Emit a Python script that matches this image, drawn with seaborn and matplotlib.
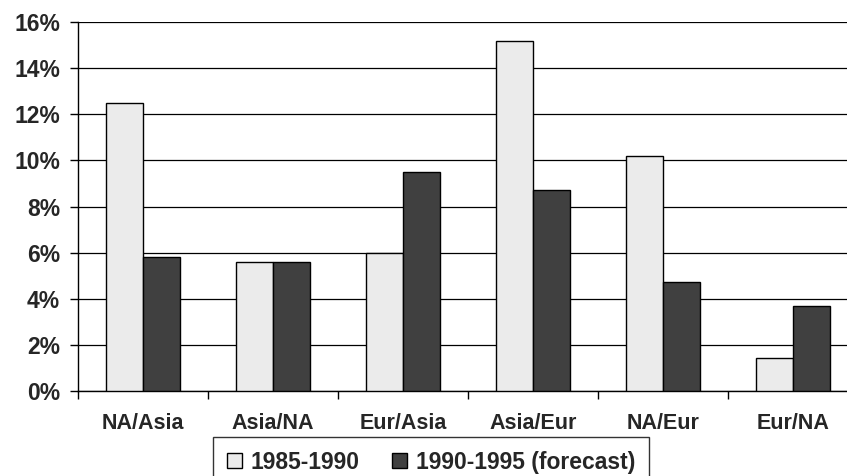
import matplotlib
matplotlib.use("Agg")
import matplotlib.pyplot as plt
from matplotlib.patches import Patch
import seaborn as sns
import pandas as pd
import numpy as np

# Trade-flow growth rates (%) per region pair
routes = ["NA/Asia", "Asia/NA", "Eur/Asia", "Asia/Eur", "NA/Eur", "Eur/NA"]
growth_1985_1990 = [12.5, 5.6, 6.0, 15.2, 10.2, 1.4]
growth_1990_1995 = [5.8, 5.6, 9.5, 8.7, 4.7, 3.7]
periods = ["1985-1990", "1990-1995 (forecast)"]
y_ticks = [0, 2, 4, 6, 8, 10, 12, 14, 16]

df = pd.DataFrame({
    "route": routes * 2,
    "growth": growth_1985_1990 + growth_1990_1995,
    "period": [periods[0]] * len(routes) + [periods[1]] * len(routes),
})

sns.set_theme(style="white")
plt.rcParams["font.family"] = ["Liberation Sans", "DejaVu Sans"]
plt.rcParams["font.weight"] = "bold"

W, H = 847, 476
fig = plt.figure(figsize=(W / 100, H / 100), dpi=100)
left, right, bottom, top = 78, 858, 476 - 390.7, 476 - 22.3
ax = fig.add_axes([left / W, bottom / H, (right - left) / W, (top - bottom) / H])

palette = {periods[0]: "#ebebeb", periods[1]: "#404040"}
sns.barplot(data=df, x="route", y="growth", hue="period", order=routes,
            hue_order=periods, palette=palette, width=0.57, saturation=1,
            edgecolor="black", linewidth=1.0, legend=False, ax=ax, zorder=3)

ax.set_ylim(0, 16)
ax.set_xlim(-0.5, len(routes) - 0.5)
ax.set_yticks(y_ticks)
ax.set_yticklabels([f"{v}%" for v in y_ticks], fontsize=16.5, fontweight="bold")
ax.yaxis.grid(True, color="black", linewidth=0.9, zorder=0)
ax.set_axisbelow(True)

# category labels centred, tick marks at category boundaries
ax.set_xticks(range(len(routes)))
ax.set_xticklabels(routes, fontsize=15.5, fontweight="bold")
ax.tick_params(axis="x", which="major", length=0, pad=16)
ax.set_xticks(np.arange(len(routes) + 1) - 0.5, minor=True)
ax.tick_params(axis="x", which="minor", length=6, width=1, color="black",
               direction="out", bottom=True)
ax.tick_params(axis="y", which="major", length=6, width=1, color="black",
               direction="out", left=True, pad=7)

for side in ["top", "right"]:
    ax.spines[side].set_visible(False)
for side in ["left", "bottom"]:
    ax.spines[side].set_color("black")
    ax.spines[side].set_linewidth(1)
ax.set_xlabel("")
ax.set_ylabel("")

handles = [Patch(facecolor=palette[p], edgecolor="black", linewidth=1) for p in periods]
leg = fig.legend(handles, periods, loc="upper left",
                 bbox_to_anchor=(213 / W, (476 - 437) / H), ncol=2,
                 frameon=True, fancybox=False, edgecolor="black",
                 prop={"size": 16.5, "weight": "bold"},
                 handlelength=0.65, handleheight=0.65, handletextpad=0.4,
                 columnspacing=1.4, borderpad=0.6, borderaxespad=0)
leg.get_frame().set_linewidth(1)

fig.savefig("out.png", dpi=100)
